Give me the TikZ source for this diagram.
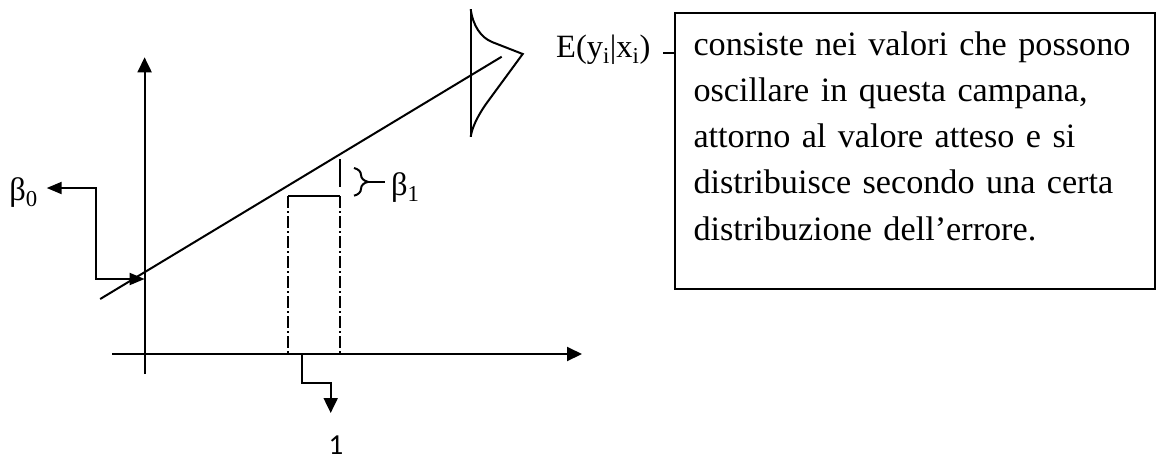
\documentclass[tikz,border=0pt]{standalone}
\usepackage{fontspec}
\setmainfont{Liberation Serif}
\newfontfamily\digitfont{Carlito}
\usepackage{tikz}
\usetikzlibrary{arrows.meta,decorations.pathreplacing}

\begin{document}
\begin{tikzpicture}[x=1pt, y=-1pt,
  line/.style={line width=2pt, black},
  arr/.style={line, -{Triangle[length=15pt,width=14pt]}},
  dbl/.style={line, {Triangle[length=15pt,width=12pt]}-{Triangle[length=15pt,width=12pt]}},
  dd/.style={line width=1.5pt, dash pattern=on 12pt off 3pt on 2pt off 3pt},
  lab/.style={font=\fontsize{32.5}{38}\selectfont, inner sep=0pt},
  box/.style={draw, line width=2pt, align=left, font=\fontsize{34.2}{46.3}\selectfont, text width=443pt, inner xsep=18.5pt, inner ysep=0pt, text height=42.3pt, text depth=234.3pt}
]
\useasboundingbox (0,0) rectangle (1158,461);
\coordinate (ytop)  at (144.6,57.3);
\coordinate (ybot)  at (144.6,374);
\coordinate (xl)    at (112,354);
\coordinate (xr)    at (582,354);
\coordinate (rl)    at (100.2,299);
\coordinate (rr)    at (501.7,56.7);
\coordinate (icpt)  at (144.6,279);
\coordinate (bend0) at (95.6,188);
\coordinate (s1)    at (288,196);
\coordinate (s2)    at (340,196);
\coordinate (rise)  at (340,159);
\coordinate (bt)    at (354,168);
\coordinate (bb)    at (354,195.7);
\coordinate (btip)  at (368,182);
\coordinate (u0)    at (301.7,354);
\coordinate (u1)    at (330.7,382.7);
\coordinate (u2)    at (330.7,413);
\coordinate (etick) at (663,53);
\coordinate (belltop) at (470.7,9.3);
\coordinate (bellbot) at (470.7,136.7);
\coordinate (bellpk)  at (522.7,54);

\node[lab, inner xsep=8.7pt, anchor=base east] (b0) at (46.7,200) {β\textsubscript{0}};
\node[lab, inner xsep=6pt, anchor=base west] (b1) at (385,195) {β\textsubscript{1}};
\node[lab, anchor=base west] (elabel) at (556,57.3) {E(y\textsubscript{i}|x\textsubscript{i})};
\node[box, anchor=north west] (note) at (674,11.7) {\hyphenpenalty=10000 consiste nei valori che possono\\oscillare in questa campana,\\attorno al valore atteso e si\\distribuisce secondo una certa\\distribuzione dell’errore.};
\node[font=\digitfont\fontsize{29}{33}\selectfont, inner sep=0pt, anchor=base] (one) at (336,454) {1};

\draw[arr] (ybot) -- (ytop);
\draw[arr] (xl) -- (xr);
\draw[line] (rl) -- (rr);
\draw[dbl] (bend0 -| b0.east) -- (bend0) |- (icpt);
\draw[line] (s1) -- (s2);
\draw[dd] (s1) -- (s1 |- xl);
\draw[dd] (s2) -- (s2 |- xl);
\draw[line] (rise) -- ++(0,28);
\draw[line, decorate, decoration={brace, amplitude=14pt}] (bt) -- (bb);
\draw[line] (btip) -- (btip -| b1.west);
\draw[arr] (u0) |- (u1) -- (u2);
\draw[line] (etick) -- (etick -| note.west);
\draw[line] (belltop) -- (bellbot);
\draw[line] (belltop) .. controls (473,26) and (481,37.5) .. (492,42) -- (bellpk) -- (486,104) .. controls (477,117) and (472,128) .. (bellbot);
\end{tikzpicture}
\end{document}
